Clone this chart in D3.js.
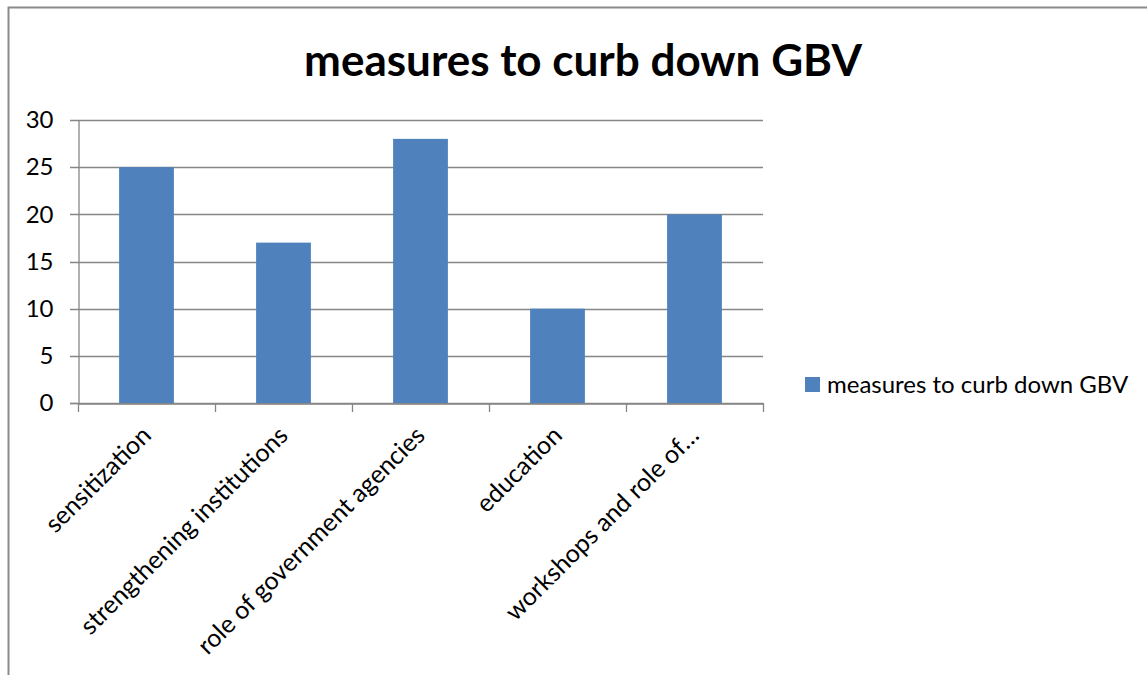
<!DOCTYPE html>
<html><head><meta charset="utf-8">
<script src="https://cdn.jsdelivr.net/npm/d3@7"></script>
<style>body{margin:0;background:#fff;overflow:hidden}text{font-family:Lato,"Open Sans",sans-serif}</style>
</head><body>
<svg id="c" width="1147" height="675"></svg>
<script>
const title = "measures to curb down GBV";
const seriesName = "measures to curb down GBV";
const categories = ["sensitization","strengthening institutions","role of government agencies","education","workshops and role of…"];
const values = [25,17,28,10,20];
const yTicks = [0,5,10,15,20,25,30];

(function(){
const svg = d3.select("#c");
const pL = 78, pR = 763, pT = 120, pB = 403;
const fs = 24;
const x = d3.scaleBand().domain(categories).range([pL,pR]).paddingInner(0.6).paddingOuter(0.3);
const y = d3.scaleLinear().domain([0,30]).range([pB,pT]);
const grey = "#868686";

svg.append("rect").attr("x",8.5).attr("y",7.5).attr("width",1200).attr("height",700)
  .attr("fill","none").attr("stroke","#8a8a8a").attr("stroke-width",2);

svg.append("text").attr("x",583).attr("y",76).attr("text-anchor","middle")
  .attr("font-size",44).attr("font-weight","bold").text(title);

// gridlines
svg.append("g").selectAll("line").data(yTicks).join("line")
  .attr("x1",70).attr("x2",pR).attr("y1",d=>Math.round(y(d))+0.5).attr("y2",d=>Math.round(y(d))+0.5)
  .attr("stroke",grey).attr("stroke-width",1.3);

// y axis
const ya = svg.append("g").attr("transform",`translate(${pL+0.5},0)`)
  .call(d3.axisLeft(y).tickValues(yTicks).tickSize(0).tickPadding(25));
ya.select(".domain").attr("stroke",grey).attr("stroke-width",1.3);
ya.selectAll("text").attr("font-size",fs).attr("fill","#000").attr("font-family","Lato");

// bars
svg.append("g").selectAll("rect").data(values).join("rect")
  .attr("x",(d,i)=>x(categories[i])).attr("width",x.bandwidth())
  .attr("y",d=>y(d)).attr("height",d=>y(0)-y(d)).attr("fill","#4F81BD");

// x axis
const xa = svg.append("g").attr("transform",`translate(0,${pB+0.5})`)
  .call(d3.axisBottom(x).tickSize(0).tickFormat(""));
xa.select(".domain").attr("stroke",grey).attr("stroke-width",1.3);
const step = x.step();
const tickPos = d3.range(categories.length+1).map(i=>pL+i*step);
svg.append("g").selectAll("line").data(tickPos).join("line")
  .attr("x1",d=>Math.round(d)+0.5).attr("x2",d=>Math.round(d)+0.5).attr("y1",pB).attr("y2",pB+9)
  .attr("stroke",grey).attr("stroke-width",1.3);
svg.append("line").attr("x1",70).attr("x2",pL).attr("y1",pB+0.5).attr("y2",pB+0.5).attr("stroke",grey).attr("stroke-width",1.3);

svg.append("g").selectAll("text").data(categories).join("text")
  .attr("transform",c=>`translate(${x(c)+x.bandwidth()/2+6},${437}) rotate(-45)`)
  .attr("text-anchor","end").attr("font-size",25).text(c=>c);

// legend
const lg = svg.append("g");
lg.append("rect").attr("x",805).attr("y",377).attr("width",15).attr("height",15).attr("fill","#4F81BD");
lg.append("text").attr("x",827).attr("y",393).attr("font-size",fs).text(seriesName);
})();
</script>
</body></html>
